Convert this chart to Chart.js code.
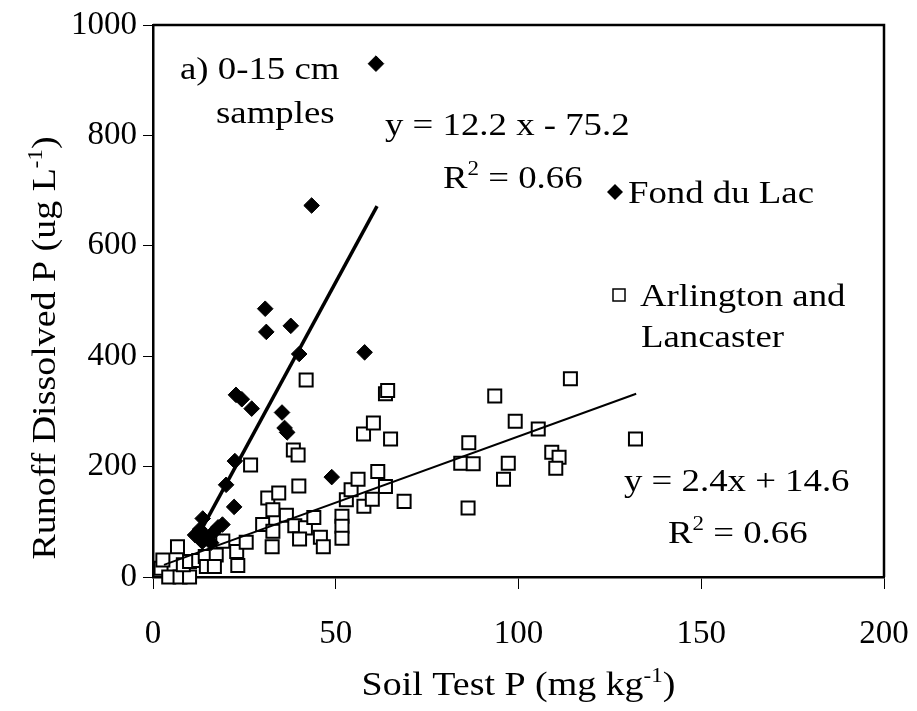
<!DOCTYPE html>
<html lang="en">
<head>
  <title>Runoff Dissolved P vs Soil Test P</title>
  <style>
    body {
      margin: 0;
      background: #fff;
    }
    canvas {
      display: block;
    }
  </style>
  <script src="https://cdn.jsdelivr.net/npm/chart.js"></script>
</head>
<body>
<canvas id="chart" width="917" height="711"></canvas>
<script>
// Fond du Lac (diamanti pieni)
var fdlX = [61.0, 43.4, 30.7, 31.0, 37.7, 40.0, 57.9, 22.7, 24.3, 27.0, 35.3, 36.0, 36.7,
            22.4, 20.0, 22.2, 48.9, 13.6, 11.5, 12.8, 19.0, 16.4, 13.5, 15.9, 14.5, 17.8];
var fdlY = [930, 673, 486, 444, 455, 404, 407, 330, 322, 305, 298, 270, 262,
            210, 167, 127, 181, 106, 76, 86, 95, 80, 64, 62, 72, 90];

// Arlington and Lancaster (quadrati vuoti)
var arlX = [2.2, 2.7, 4.3, 7.4, 10.0, 6.7, 8.3, 10.0, 12.5, 14.3, 14.6, 17.3, 16.8, 19.1,
            22.9, 23.2, 25.5, 26.7, 30.0, 31.4, 34.4, 32.8, 32.8, 32.6, 36.5, 38.8, 41.7,
            40.1, 44.0, 45.8, 46.6, 38.4, 39.7, 39.9, 41.9, 51.7, 51.7, 51.7, 52.9, 54.2,
            56.1, 57.7, 57.6, 60.0, 60.3, 61.5, 63.6, 63.6, 64.2, 65.0, 68.7,
            84.2, 86.4, 87.6, 86.2, 93.5, 95.9, 97.2, 99.1, 105.4, 109.1, 111.1, 110.2,
            114.2, 132.0];
var arlY = [16, 31, 0, 0, 0, 55, 22, 28, 30, 37, 19, 40, 19, 65,
            46, 21, 63, 203, 95, 143, 152, 122, 83, 55, 112, 93, 89,
            69, 108, 72, 55, 230, 221, 165, 357, 110, 92, 70, 140, 158,
            177, 128, 259, 141, 279, 191, 164, 332, 338, 250, 137,
            206, 243, 205, 125, 328, 177, 206, 282, 268, 226, 217, 197,
            359, 250];

// Rette di regressione (estremi)
var fdlFitX = [11.6, 61.3];
var fdlFitY = [66, 672];
var arlFitX = [3.0, 132.2];
var arlFitY = [22, 332];

var xTicks = [0, 50, 100, 150, 200];
var yTicks = [0, 200, 400, 600, 800, 1000];

function toPoints(xs, ys) {
  var pts = [];
  for (var i = 0; i < xs.length; i++) {
    pts.push({ x: xs[i], y: ys[i] });
  }
  return pts;
}

var FONT = '"Liberation Serif", "Times New Roman", serif';
var SX = 1.15; // il testo originale e' un po' piu' largo

// Testo con apici (R^2, kg^-1 ...)
function richText(ctx, parts, x, y, align, size, rotate) {
  var total = 0;
  ctx.save();
  for (var i = 0; i < parts.length; i++) {
    var p = parts[i];
    ctx.font = (p.sup ? Math.round(size * 0.62) : size) + 'px ' + FONT;
    p.w = ctx.measureText(p.t).width;
    total += p.w;
  }
  ctx.translate(x, y);
  if (rotate) ctx.rotate(-Math.PI / 2);
  ctx.scale(SX, 1);
  ctx.fillStyle = '#000';
  ctx.textBaseline = 'alphabetic';
  ctx.textAlign = 'left';
  var cx = align === 'center' ? -total / 2 : 0;
  for (var j = 0; j < parts.length; j++) {
    var q = parts[j];
    ctx.font = (q.sup ? Math.round(size * 0.62) : size) + 'px ' + FONT;
    ctx.fillText(q.t, cx, q.sup ? -size * 0.4 : 0);
    cx += q.w;
  }
  ctx.restore();
}

var annotations = {
  id: 'annotations',
  afterDraw: function(chart) {
    var ctx = chart.ctx;
    var a = chart.chartArea;
    var S = 32;

    // cornice in alto e a destra
    ctx.save();
    ctx.strokeStyle = '#000';
    ctx.lineWidth = 2.5;
    ctx.beginPath();
    ctx.moveTo(a.left, a.top);
    ctx.lineTo(a.right, a.top);
    ctx.lineTo(a.right, a.bottom);
    ctx.stroke();
    ctx.restore();

    richText(ctx, [{ t: 'a) 0-15 cm' }], 180, 79, 'left', S);
    richText(ctx, [{ t: 'samples' }], 216, 123, 'left', S);
    richText(ctx, [{ t: 'y = 12.2 x - 75.2' }], 385, 135, 'left', S);
    richText(ctx, [{ t: 'R' }, { t: '2', sup: true }, { t: ' = 0.66' }], 443, 188, 'left', S);

    // legenda
    ctx.save();
    ctx.fillStyle = '#000';
    ctx.beginPath();
    ctx.moveTo(615, 184);
    ctx.lineTo(623, 192);
    ctx.lineTo(615, 200);
    ctx.lineTo(607, 192);
    ctx.closePath();
    ctx.fill();
    ctx.fillStyle = '#fff';
    ctx.strokeStyle = '#000';
    ctx.lineWidth = 1.5;
    ctx.fillRect(613, 289, 12, 12);
    ctx.strokeRect(613, 289, 12, 12);
    ctx.restore();
    richText(ctx, [{ t: 'Fond du Lac' }], 628, 203, 'left', S);
    richText(ctx, [{ t: 'Arlington and' }], 640, 306, 'left', S);
    richText(ctx, [{ t: 'Lancaster' }], 641, 347, 'left', S);

    richText(ctx, [{ t: 'y = 2.4x + 14.6' }], 624, 491, 'left', S);
    richText(ctx, [{ t: 'R' }, { t: '2', sup: true }, { t: ' = 0.66' }], 668, 543, 'left', S);

    // titoli degli assi
    richText(ctx, [{ t: 'Soil Test P (mg kg' }, { t: '-1', sup: true }, { t: ')' }],
             (a.left + a.right) / 2, 695, 'center', 33);
    richText(ctx, [{ t: 'Runoff Dissolved P (ug L' }, { t: '-1', sup: true }, { t: ')' }],
             55, 348, 'center', 33, true);
  }
};

var ctx = document.getElementById('chart').getContext('2d');
var chart = new Chart(ctx, {
  type: 'scatter',
  data: {
    datasets: [{
      label: 'Fond du Lac fit',
      data: toPoints(fdlFitX, fdlFitY),
      showLine: true,
      borderColor: '#000',
      borderWidth: 3.5,
      pointRadius: 0,
      clip: false,
      order: 0
    }, {
      label: 'Arlington fit',
      data: toPoints(arlFitX, arlFitY),
      showLine: true,
      borderColor: '#000',
      borderWidth: 2,
      pointRadius: 0,
      clip: false,
      order: 0
    }, {
      label: 'Fond du Lac',
      data: toPoints(fdlX, fdlY),
      pointStyle: 'rectRot',
      pointRadius: 7.8,
      backgroundColor: '#000',
      borderColor: '#000',
      borderWidth: 1,
      clip: false,
      order: 1
    }, {
      label: 'Arlington and Lancaster',
      data: toPoints(arlX, arlY),
      pointStyle: 'rect',
      pointRadius: 9.2,
      backgroundColor: '#fff',
      borderColor: '#000',
      borderWidth: 2,
      clip: false,
      order: 2
    }]
  },
  options: {
    responsive: false,
    animation: false,
    devicePixelRatio: 1,
    layout: { padding: { top: 25, right: 33, left: 0, bottom: 0 } },
    plugins: {
      legend: { display: false },
      tooltip: { enabled: false }
    },
    scales: {
      x: {
        type: 'linear',
        min: 0,
        max: 200,
        afterBuildTicks: function(scale) {
          scale.ticks = xTicks.map(function(v) { return { value: v }; });
        },
        afterFit: function(scale) {
          scale.height = 134;
          scale.paddingLeft = 0;
          scale.paddingRight = 0;
        },
        ticks: {
          color: '#000',
          padding: 26,
          maxRotation: 0,
          font: { family: FONT, size: 33 },
          callback: function(v) { return String(v); }
        },
        grid: { drawOnChartArea: false, tickLength: 12, tickWidth: 1, tickColor: '#000' },
        border: { display: true, width: 2.5, color: '#000' }
      },
      y: {
        type: 'linear',
        min: 0,
        max: 1000,
        afterBuildTicks: function(scale) {
          scale.ticks = yTicks.map(function(v) { return { value: v }; });
        },
        afterFit: function(scale) {
          scale.width = 153;
          scale.paddingTop = 0;
          scale.paddingBottom = 0;
        },
        ticks: {
          color: '#000',
          padding: 6,
          font: { family: FONT, size: 33 },
          callback: function(v) { return String(v); }
        },
        grid: { drawOnChartArea: false, tickLength: 10, tickWidth: 1, tickColor: '#000' },
        border: { display: true, width: 2.5, color: '#000' }
      }
    }
  },
  plugins: [annotations]
});
</script>
</body>
</html>
